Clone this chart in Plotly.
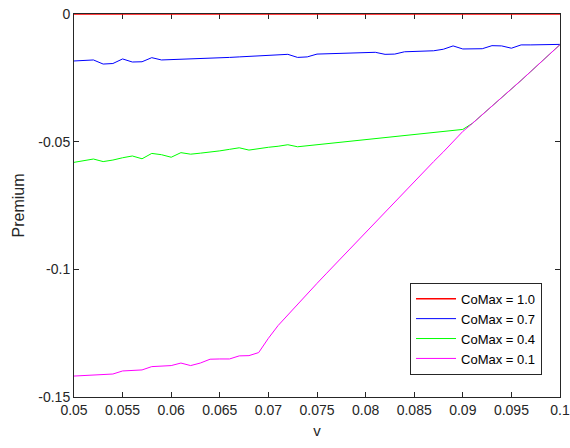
import plotly.graph_objects as go

v = [round(0.05 + 0.001 * i, 3) for i in range(51)]

comax_10 = [0.0] * 51

comax_07 = [
    -0.0184, -0.0183, -0.0180, -0.0196, -0.0194, -0.0176, -0.0188, -0.0187, -0.0171, -0.0180,
    -0.0179, -0.0178, -0.0176, -0.0175, -0.0174, -0.0172, -0.0170, -0.0168, -0.0166, -0.0164,
    -0.0162, -0.0160, -0.0158, -0.0170, -0.0168, -0.0157, -0.0156, -0.0155, -0.0154, -0.0153,
    -0.0152, -0.0150, -0.0158, -0.0157, -0.0148, -0.0147, -0.0146, -0.0144, -0.0138, -0.0125,
    -0.0137, -0.0136, -0.0136, -0.0124, -0.0125, -0.0134, -0.0121, -0.0121, -0.0120, -0.0120,
    -0.0119,
]

comax_04 = [
    -0.0581, -0.0575, -0.0568, -0.0578, -0.0572, -0.0563, -0.0556, -0.0567, -0.0546, -0.0551,
    -0.0561, -0.0543, -0.0549, -0.0545, -0.0541, -0.0536, -0.0530, -0.0524, -0.0533, -0.0526,
    -0.0522, -0.0518, -0.0512, -0.0520, -0.0516, -0.0512, -0.0508, -0.0504, -0.0500, -0.0496,
    -0.0492, -0.0488, -0.0484, -0.0480, -0.0476, -0.0472, -0.0468, -0.0464, -0.0460, -0.0456,
    -0.0452, -0.0428, -0.0395, -0.0362, -0.0328, -0.0295, -0.0260, -0.0225, -0.0190, -0.0155,
    -0.0120,
]

comax_01 = [
    -0.1418, -0.1416, -0.1415, -0.1412, -0.1410, -0.1398, -0.1395, -0.1394, -0.1381, -0.1378,
    -0.1377, -0.1367, -0.1377, -0.1367, -0.1352, -0.1351, -0.1351, -0.1339, -0.1338, -0.1326,
    -0.1270, -0.1220, -0.1178, -0.1135, -0.1095, -0.1055, -0.1015, -0.0975, -0.0935, -0.0895,
    -0.0855, -0.0815, -0.0775, -0.0735, -0.0695, -0.0655, -0.0616, -0.0578, -0.0540, -0.0500,
    -0.0460, -0.0428, -0.0395, -0.0362, -0.0328, -0.0295, -0.0260, -0.0225, -0.0190, -0.0155,
    -0.0120,
]

series_names = ["CoMax = 1.0", "CoMax = 0.7", "CoMax = 0.4", "CoMax = 0.1"]
series_colors = ["#ff0000", "#0000ff", "#00ff00", "#ff00ff"]
series_values = [comax_10, comax_07, comax_04, comax_01]
series_widths = [1.5, 1, 1, 1]

x_tickvals = [0.05, 0.055, 0.06, 0.065, 0.07, 0.075, 0.08, 0.085, 0.09, 0.095, 0.1]
x_ticktext = ["0.05", "0.055", "0.06", "0.065", "0.07", "0.075", "0.08", "0.085", "0.09", "0.095", "0.1"]
y_tickvals = [0, -0.05, -0.1, -0.15]
y_ticktext = ["0", "-0.05", "-0.1", "-0.15"]

fig = go.Figure()
for name, col, vals, w in zip(series_names, series_colors, series_values, series_widths):
    fig.add_trace(go.Scatter(x=v, y=vals, mode="lines", name=name,
                             line=dict(color=col, width=w)))

axis_color = "#262626"
font_family = "Liberation Sans, Arial, sans-serif"

fig.update_layout(
    width=570, height=448,
    margin=dict(l=74, r=10, t=14, b=51, autoexpand=False),
    paper_bgcolor="white", plot_bgcolor="white",
    font=dict(family=font_family, size=14, color=axis_color),
    showlegend=True,
    legend=dict(
        x=0.963, y=0.058, xanchor="right", yanchor="bottom",
        bgcolor="white", bordercolor=axis_color, borderwidth=1,
        font=dict(size=13, color="#000000"),
        tracegroupgap=0, itemwidth=40,
    ),
    xaxis=dict(
        range=[0.05, 0.1], tickvals=x_tickvals, ticktext=x_ticktext,
        showgrid=False, zeroline=False, automargin=False,
        ticklabeloverflow="allow",
        showline=True, linecolor=axis_color, linewidth=1, mirror="ticks",
        ticks="inside", ticklen=5, tickcolor=axis_color, tickwidth=1,
        title=dict(text="v", font=dict(size=15), standoff=8),
        layer="below traces",
    ),
    yaxis=dict(
        range=[-0.15, 0], tickvals=y_tickvals, ticktext=y_ticktext,
        showgrid=False, zeroline=False, automargin=False,
        ticklabeloverflow="allow",
        showline=True, linecolor=axis_color, linewidth=1, mirror="ticks",
        ticks="inside", ticklen=5, tickcolor=axis_color, tickwidth=1,
        title=dict(text="Premium", font=dict(size=16), standoff=9),
        layer="below traces",
    ),
)

fig.write_html("out.html",
               config={"displayModeBar": False},
               post_script="document.body.style.margin='0';document.body.style.overflow='hidden';")
